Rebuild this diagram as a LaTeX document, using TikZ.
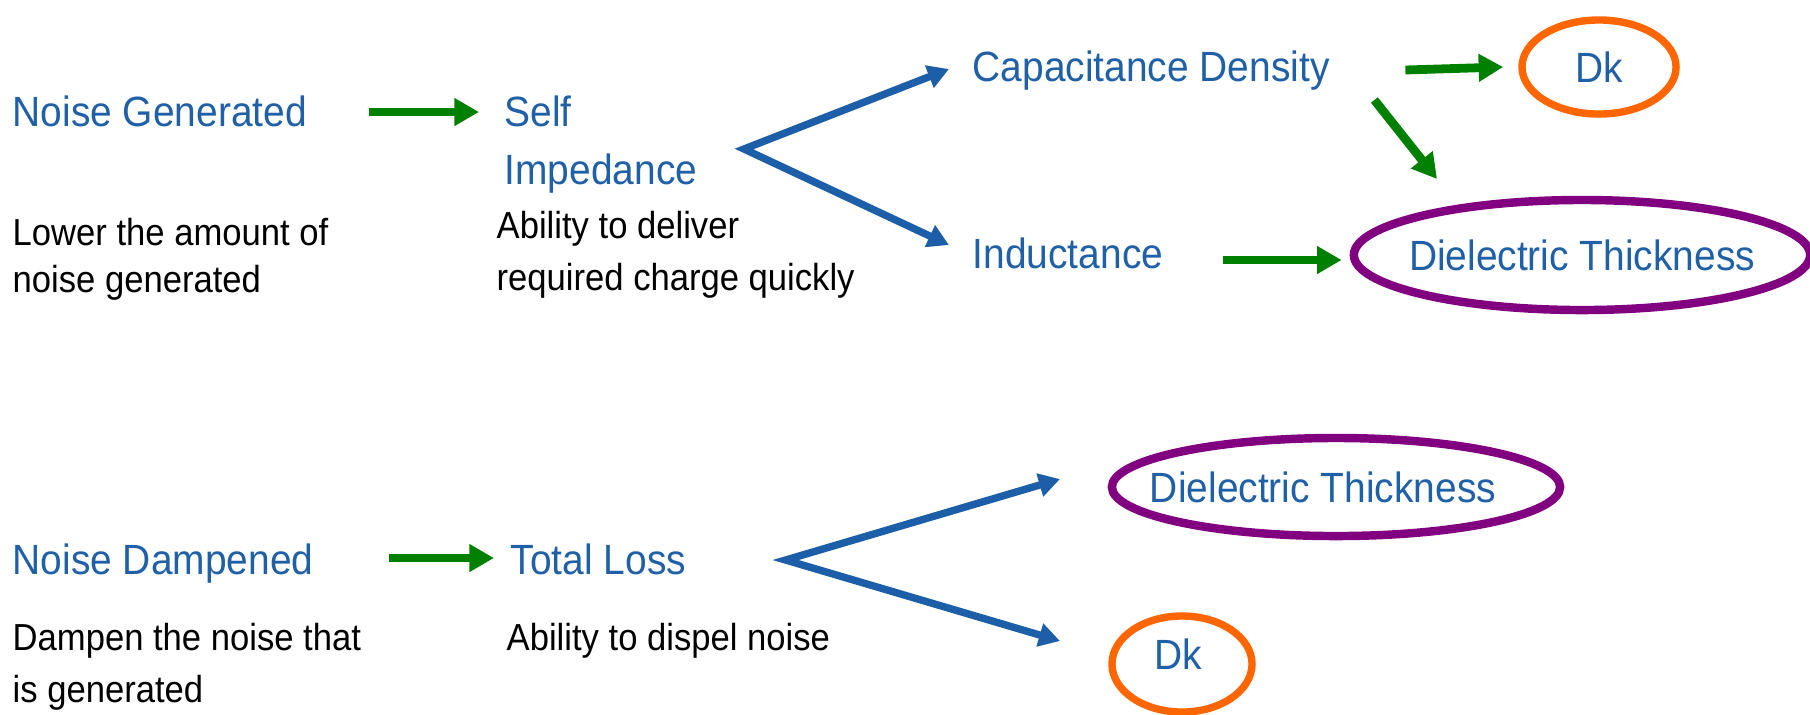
\documentclass[tikz,border=0pt]{standalone}
\usepackage{fontspec}
\setmainfont[FakeStretch=0.92]{Liberation Sans}
\usetikzlibrary{shapes.geometric,arrows.meta,calc}
\definecolor{tblue}{RGB}{31,96,166}
\definecolor{ablue}{RGB}{28,94,168}
\definecolor{agreen}{RGB}{0,128,0}
\definecolor{epurple}{RGB}{128,0,128}
\definecolor{eorange}{RGB}{255,102,0}
\begin{document}
\begin{tikzpicture}[x=0.01cm,y=-0.01cm,
  lbl/.style={inner sep=0pt, anchor=base west, text=tblue, font=\fontsize{12.03}{14}\selectfont},
  desc/.style={inner sep=0pt, anchor=base west, text=black, font=\fontsize{10.7}{13}\selectfont},
  ell/.style={ellipse, inner sep=0pt, text=tblue, font=\fontsize{12.03}{14}\selectfont},
  purpleell/.style={ell, draw=epurple, line width=2.4pt},
  orangeell/.style={ell, draw=eorange, line width=2.1pt},
  garrow/.style={draw=agreen, line width=2.5pt, -{Triangle[length=7pt,width=7.5pt]}},
  barrow/.style={draw=ablue, line width=2.1pt, line join=miter, {Triangle[length=6pt,width=6.5pt]}-{Triangle[length=6pt,width=6.5pt]}}]
\useasboundingbox[fill=white] (0,0) rectangle (1810,714);

% top row
\node[lbl] (ng) at (12,126) {Noise Generated};
\node[lbl] (si1) at (504,126) {Self};
\node[lbl] (si2) at (504,184) {Impedance};
\node[desc] (lo1) at (12,245) {Lower the amount of};
\node[desc] (lo2) at (12,292) {noise generated};
\node[desc] (ab1) at (496,238) {Ability to deliver};
\node[desc] (ab2) at (496,290) {required charge quickly};
\node[lbl] (cd) at (972,81) {Capacitance Density};
\node[lbl] (ind) at (972,268) {Inductance};
\node[orangeell, minimum width=15.4mm, minimum height=9.4mm] (dk1) at (1599,67) {\makebox[0pt]{Dk}};
\node[purpleell, minimum width=45.6mm, minimum height=11mm] (dt1) at (1582,255) {\makebox[0pt]{Dielectric Thickness}};

\draw[garrow] ($(ng.base east)+(61,-14)$) -- ($(si1.base west)+(-25,-14)$);
\draw[garrow] ($(cd.base east)+(75,-11)$) -- ($(dk1.west)+(-15,0)$);
\draw[garrow] ($(cd.base east)+(44,19)$) -- ($(dt1.center)+(-145,-76)$);
\draw[garrow] ($(ind.base east)+(59,-8)$) -- ($(dt1.west)+(-8,5)$);

\coordinate (v1) at ($(si2.base east)+(46,-35)$);
\draw[barrow] ($(cd.base west)+(-23,-12)$) -- (v1) -- ($(ind.base west)+(-23,-23)$);

% bottom row
\node[lbl] (nd) at (12,574) {Noise Dampened};
\node[lbl] (tl) at (510,574) {Total Loss};
\node[desc] (dp1) at (12,650) {Dampen the noise that};
\node[desc] (dp2) at (12,702) {is generated};
\node[desc] (ad) at (506,650) {Ability to dispel noise};
\node[purpleell, minimum width=44.8mm, minimum height=9.8mm] (dt2) at (1336,487) {\makebox[0pt]{\hspace*{-2.6mm}Dielectric Thickness}};
\node[orangeell, minimum width=14mm, minimum height=9.6mm] (dk2) at (1182,664) {\makebox[0pt]{\hspace*{-0.8mm}\raisebox{2mm}{Dk}}};

\draw[garrow] ($(nd.base east)+(75,-16)$) -- ($(tl.base west)+(-16,-16)$);

\coordinate (v2) at ($(tl.base east)+(99,-14)$);
\draw[barrow] ($(dt2.center)+(-276,-8)$) -- (v2) -- ($(dk2.center)+(-122,-23)$);
\end{tikzpicture}
\end{document}
